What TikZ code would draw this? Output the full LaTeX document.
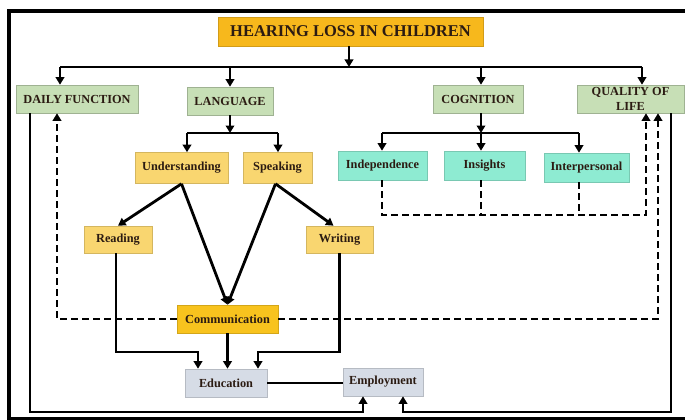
\documentclass[tikz,border=0pt]{standalone}
\usepackage{fontspec}
\setmainfont{Liberation Serif}
\usetikzlibrary{arrows.meta}

\definecolor{titleorange}{HTML}{F7B81C}
\definecolor{commorange}{HTML}{F8C31E}
\definecolor{paleorange}{HTML}{F9D670}
\definecolor{sage}{HTML}{C7DFB6}
\definecolor{aqua}{HTML}{8EEBD2}
\definecolor{slate}{HTML}{D6DCE6}
\definecolor{ink}{HTML}{2B1B12}

\begin{document}
\begin{tikzpicture}[x=1pt,y=-1pt,
  box/.style={rectangle, inner sep=0pt, align=center, text=ink,
    font=\bfseries\fontsize{12.3}{14.5}\selectfont, line width=0.6pt},
  gbox/.style={box, fill=sage, draw=sage!80!black},
  obox/.style={box, fill=paleorange, draw=paleorange!85!black},
  abox/.style={box, fill=aqua, draw=aqua!85!black},
  sbox/.style={box, fill=slate, draw=slate!85!black},
  conn/.style={line width=2.8pt, draw=black},
  arr/.style={-{Triangle[length=7.5pt,width=8.5pt]}},
  dsh/.style={dash pattern=on 7pt off 4pt}]

\useasboundingbox (0,0) rectangle (685,420);

% outer frame
\draw[line width=4pt] (8.5,11) rectangle (692,418.5);

% boxes
\node[box, fill=titleorange, draw=titleorange!85!black, minimum width=265pt, minimum height=29pt,
      font=\bfseries\fontsize{16.5}{18}\selectfont] (title) at (350.5,31.5) {HEARING LOSS IN CHILDREN};

\node[gbox, minimum width=122pt, minimum height=28pt] (daily) at (77,99) {DAILY FUNCTION};
\node[gbox, minimum width=86pt, minimum height=28pt] (lang) at (230,101) {LANGUAGE};
\node[gbox, minimum width=90pt, minimum height=28pt] (cog) at (478,99) {COGNITION};
\node[gbox, minimum width=107pt, minimum height=28pt] (qol) at (630.5,99) {QUALITY OF\\LIFE};

\node[obox, minimum width=93pt, minimum height=31pt] (und) at (181.5,168) {Understanding};
\node[obox, minimum width=69pt, minimum height=31pt] (spk) at (277.5,168) {Speaking};

\node[abox, minimum width=89pt, minimum height=29pt] (ind) at (382.5,165.5) {Independence};
\node[abox, minimum width=81pt, minimum height=29pt] (ins) at (484.5,165.5) {Insights};
\node[abox, minimum width=85pt, minimum height=29pt] (intp) at (586.5,167.5) {Interpersonal};

\node[obox, minimum width=68pt, minimum height=27pt] (read) at (118,239.5) {Reading};
\node[obox, minimum width=67pt, minimum height=27pt] (write) at (339.5,239.5) {Writing};

\node[box, fill=commorange, draw=commorange!85!black, minimum width=101pt, minimum height=28pt] (comm) at (227.5,319) {Communication};

\node[sbox, minimum width=82pt, minimum height=28pt] (edu) at (226,383) {Education};
\node[sbox, minimum width=80pt, minimum height=28pt] (emp) at (383,382) {Employment};

% routing points
\coordinate (tDaily) at (60,67);
\coordinate (tHub) at (349,67);
\coordinate (tLang) at (230,67);
\coordinate (tCog) at (481,67);
\coordinate (tQol) at (642,67);

\coordinate (lHub) at (230,133);
\coordinate (lU) at (187,133);
\coordinate (lS) at (278,133);

\coordinate (cHub) at (481,133);
\coordinate (cI) at (382,133);
\coordinate (cP) at (579,133);

\coordinate (eL) at (198,352);
\coordinate (eR) at (258,352);

\coordinate (dDown) at (30,412);
\coordinate (empL) at (363,412);
\coordinate (qDown) at (671,412);
\coordinate (empR) at (403,412);

\coordinate (dashL) at (57,319);
\coordinate (dashR) at (658,319);
\coordinate (cgR) at (646,215);

\begin{scope}[conn]
  % title to the four domains
  \draw[arr] (tHub |- title.south) -- (tHub);
  \draw (tDaily) -- (tQol);
  \draw[arr] (tDaily) -- (tDaily |- daily.north);
  \draw[arr] (tLang) -- (tLang |- lang.north);
  \draw[arr] (tCog) -- (tCog |- cog.north);
  \draw[arr] (tQol) -- (tQol |- qol.north);

  % language branch
  \draw[arr] (lang) -- (lHub);
  \draw (lU) -- (lS);
  \draw[arr] (lU) -- (lU |- und.north);
  \draw[arr] (lS) -- (lS |- spk.north);

  % cognition branch
  \draw[arr] (cHub |- cog.south) -- (cHub);
  \draw (cI) -- (cP);
  \draw[arr] (cI) -- (cI |- ind.north);
  \draw[arr] (cHub) -- (cHub |- ins.north);
  \draw[arr] (cP) -- (cP |- intp.north);

  % understanding / speaking fan-out
  \draw[arr] (und.south) -- (read.north);
  \draw[arr] (und.south) -- (comm.north);
  \draw[arr] ([xshift=-2pt]spk.south) -- (comm.north);
  \draw[arr] ([xshift=-2pt]spk.south) -- ([xshift=-6pt]write.north);

  % into education
  \draw[arr] ([xshift=-2pt]read.south) |- (eL) -- (eL |- edu.north);
  \draw[arr] (comm.south) -- (comm.south |- edu.north);
  \draw[arr] (write.south) |- (eR) -- (eR |- edu.north);
  \draw (edu.east) -- (edu.east -| emp.west);

  % into employment
  \draw[arr] (dDown |- daily.south) -- (dDown) -- (empL) -- (empL |- emp.south);
  \draw[arr] (qDown |- qol.south) -- (qDown) -- (empR) -- (empR |- emp.south);

  % dashed feedback paths
  \draw[dsh, arr] (comm.west) -- (dashL) -- (dashL |- daily.south);
  \draw[dsh, arr] (comm.east) -- (dashR) -- (dashR |- qol.south);
  \draw[dsh, arr] (cI |- ind.south) -- (cI |- cgR) -- (cgR) -- (cgR |- qol.south);
  \draw[dsh] (cHub |- ins.south) -- (cHub |- cgR);
  \draw[dsh] (cP |- intp.south) -- (cP |- cgR);
\end{scope}

\end{tikzpicture}
\end{document}
